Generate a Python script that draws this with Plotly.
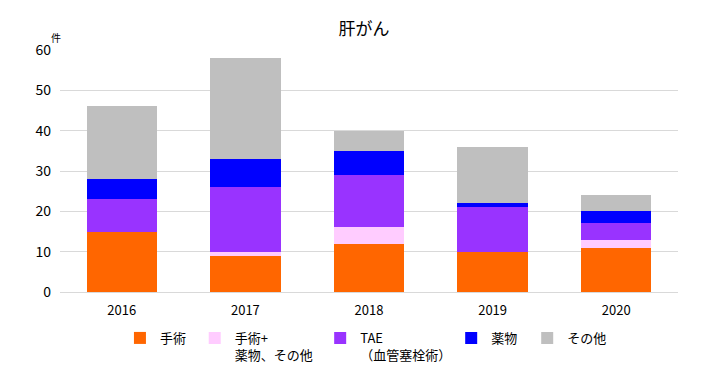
import plotly.graph_objects as go

years = ["2016", "2017", "2018", "2019", "2020"]
surgery = [15, 9, 12, 10, 11]
surgery_plus = [0, 1, 4, 0, 2]
tae = [8, 16, 13, 11, 4]
drug = [5, 7, 6, 1, 3]
other = [18, 25, 5, 14, 4]

series = [
    ("手術", surgery, "#FF6600"),
    ("手術+<br>薬物、その他", surgery_plus, "#FFCCFF"),
    ("TAE<br>（血管塞栓術）", tae, "#9933FF"),
    ("薬物", drug, "#0000FF"),
    ("その他", other, "#BFBFBF"),
]

font_family = "Noto Sans CJK JP, Noto Sans, sans-serif"
legend_ids = ["legend", "legend2", "legend3", "legend4", "legend5"]
legend_x = [0.097, 0.218, 0.421, 0.633, 0.756]

fig = go.Figure()
for (name, vals, color), lid in zip(series, legend_ids):
    fig.add_trace(go.Bar(x=years, y=vals, name=name, legend=lid,
                         marker=dict(color=color, line=dict(width=0))))

layout_legends = {}
for lid, lx in zip(legend_ids, legend_x):
    layout_legends[lid] = dict(orientation="h", x=lx, xanchor="left", y=-0.128, yanchor="top",
                               font=dict(size=13, color="#000000"), valign="top",
                               itemwidth=30, bgcolor="rgba(0,0,0,0)")

fig.update_layout(
    barmode="stack",
    bargap=0.43,
    width=712, height=381,
    margin=dict(l=52, r=42, t=42, b=97),
    paper_bgcolor="white", plot_bgcolor="white",
    font=dict(family=font_family, size=13, color="#000000"),
    title=dict(text="肝がん", x=0.5, xanchor="center", y=0.945, yanchor="middle",
               font=dict(size=17, color="#000000")),
    xaxis=dict(showgrid=False, showline=True, linecolor="#D9D9D9", ticks="",
               tickfont=dict(size=13), ticklabelstandoff=6),
    yaxis=dict(range=[0, 60], dtick=10, showgrid=True, gridcolor="#D9D9D9",
               zeroline=False, ticks="", tickfont=dict(size=14), ticklabelstandoff=8),
    showlegend=True,
    **layout_legends,
)

fig.add_annotation(text="件", xref="paper", yref="paper", x=-0.007, y=1.05,
                   xanchor="center", yanchor="middle", showarrow=False, font=dict(size=10))

fig.write_html("out.html")
